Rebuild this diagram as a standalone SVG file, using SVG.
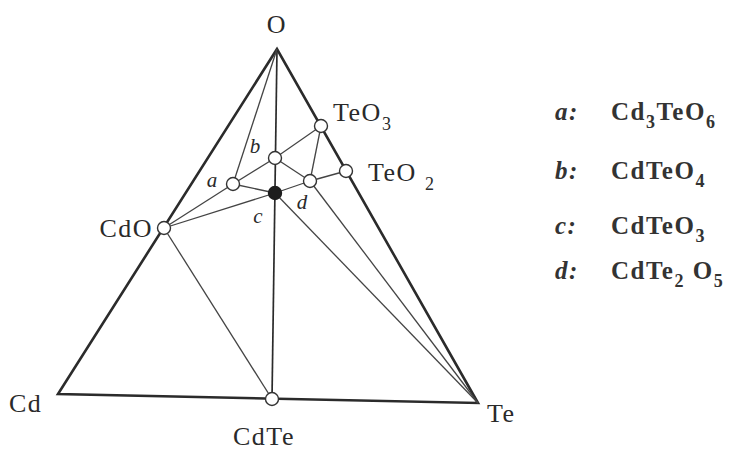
<svg xmlns="http://www.w3.org/2000/svg" width="742" height="451" viewBox="0 0 742 451">
<style>
.edge{fill:none;stroke:#2b2b2b;stroke-width:2.6;stroke-linejoin:miter}
.ln{stroke:#444;stroke-width:1.3;fill:none}
.vl{stroke:#2b2b2b;stroke-width:1.7;fill:none}
.pt{fill:#fff;stroke:#333;stroke-width:1.4}
.ptf{fill:#1e1e1e;stroke:#1e1e1e;stroke-width:1.4}
.lbl{font-family:"Liberation Serif","Times New Roman",serif;font-size:26px;fill:#2a2a2a;letter-spacing:1.5px}
.sub{font-size:18px}
.it{font-family:"Liberation Serif","Times New Roman",serif;font-style:italic;font-size:21px;fill:#2a2a2a;text-anchor:middle}
.leg{font-family:"Liberation Serif","Times New Roman",serif;font-weight:bold;font-size:25px;fill:#333;letter-spacing:1.5px}
.legi{font-style:italic}
</style>
<rect width="742" height="451" fill="#fff"/>
<g id="connectors">
<polygon class="edge" points="277,49 58,394 478,403"/>
<line class="vl" x1="277" y1="49" x2="272" y2="399"/>
<line class="ln" x1="277" y1="49" x2="233" y2="184"/>
<line class="ln" x1="233" y1="184" x2="275" y2="158"/>
<line class="ln" x1="275" y1="158" x2="321" y2="126"/>
<line class="ln" x1="275" y1="158" x2="310" y2="181"/>
<line class="ln" x1="321" y1="126" x2="310" y2="181"/>
<line class="ln" x1="310" y1="181" x2="346" y2="171"/>
<line class="ln" x1="275" y1="193" x2="310" y2="181"/>
<line class="ln" x1="233" y1="184" x2="275" y2="193"/>
<line class="ln" x1="164" y1="228" x2="233" y2="184"/>
<line class="ln" x1="164" y1="228" x2="275" y2="193"/>
<line class="ln" x1="164" y1="228" x2="272" y2="399"/>
<line class="ln" x1="275" y1="193" x2="478" y2="403"/>
<line class="ln" x1="310" y1="181" x2="478" y2="403"/>
</g>
<g id="node-O"><text class="lbl" x="277" y="33" text-anchor="middle">O</text></g>
<g id="node-Cd"><text class="lbl" x="9" y="412">Cd</text></g>
<g id="node-Te"><text class="lbl" x="487" y="422">Te</text></g>
<g id="node-CdTe"><circle class="pt" cx="272" cy="399" r="6.5"/><text class="lbl" x="264" y="445" text-anchor="middle">CdTe</text></g>
<g id="node-CdO"><circle class="pt" cx="164" cy="228" r="6.5"/><text class="lbl" x="153" y="237" text-anchor="end">CdO</text></g>
<g id="node-TeO3"><circle class="pt" cx="321" cy="126" r="6.5"/><text class="lbl" x="333" y="121">TeO<tspan class="sub" dy="9">3</tspan></text></g>
<g id="node-TeO2"><circle class="pt" cx="346" cy="171" r="6.5"/><text class="lbl" x="368" y="181">TeO <tspan class="sub" dy="9">2</tspan></text></g>
<g id="node-a"><circle class="pt" cx="233" cy="184" r="6.5"/><text class="it" x="212" y="187">a</text></g>
<g id="node-b"><circle class="pt" cx="275" cy="158" r="6.5"/><text class="it" x="255" y="153">b</text></g>
<g id="node-c"><circle class="ptf" cx="275" cy="193" r="6.5"/><text class="it" x="258" y="223">c</text></g>
<g id="node-d"><circle class="pt" cx="310" cy="181" r="6.5"/><text class="it" x="302" y="209">d</text></g>
<g id="legend">
<text class="leg" y="120"><tspan class="legi" x="555">a:</tspan><tspan x="611">Cd</tspan><tspan class="sub" dy="8">3</tspan><tspan dy="-8">TeO</tspan><tspan class="sub" dy="8">6</tspan></text>
<text class="leg" y="179"><tspan class="legi" x="555">b:</tspan><tspan x="611">CdTeO</tspan><tspan class="sub" dy="8">4</tspan></text>
<text class="leg" y="234"><tspan class="legi" x="555">c:</tspan><tspan x="611">CdTeO</tspan><tspan class="sub" dy="8">3</tspan></text>
<text class="leg" y="279"><tspan class="legi" x="555">d:</tspan><tspan x="611">CdTe</tspan><tspan class="sub" dy="8">2</tspan><tspan dy="-8"> O</tspan><tspan class="sub" dy="8">5</tspan></text>
</g>
</svg>
